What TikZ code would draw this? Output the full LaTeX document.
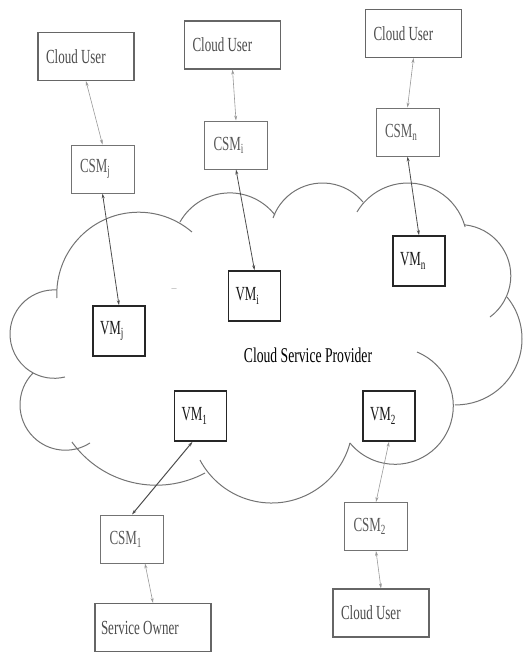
\documentclass[tikz,border=0pt]{standalone}
\usepackage{fontspec}
\setmainfont{Liberation Serif}
\newfontfamily\narrowfont[FakeStretch=0.65]{Liberation Serif}
\usetikzlibrary{arrows.meta}
\tikzset{
  box/.style={draw, minimum height=48pt, align=flush left,
    font=\narrowfont\fontsize{20}{22}\selectfont},
  userbox/.style={box, draw=black!60, line width=1.2pt, text=black!70,
    inner xsep=8pt, text width=80pt},
  csmbox/.style={box, draw=black!55, line width=1pt, text=black!65,
    inner xsep=9pt, text width=45pt},
  vmbox/.style={box, draw=black!85, line width=1.6pt, text=black!90,
    inner xsep=7pt, text width=38pt, minimum height=50pt},
  cloudline/.style={draw=black!55, line width=1pt},
  link/.style={{Stealth[length=5pt,width=3pt]}-{Stealth[length=5pt,width=3pt]},
    draw=black!40, line width=.6pt},
  vmlink/.style={link, draw=black!70, line width=.8pt}
}
\begin{document}
\begin{tikzpicture}[x=1pt,y=-1pt]
  \useasboundingbox (0,0) rectangle (523,653);
  % cloud outline, one arc per bump
  \foreach \cx/\cy/\r/\a/\b in {138.6/294/81.8/177.2/310.7, 229.8/250.1/57.2/209.4/322.2,
      322.5/235.5/52.5/199.5/320.4, 407.9/242.2/59.2/210.7/345.1,
      459.6/275.8/51.2/276.1/413.6, 456/338.9/66/320.6/450.9,
      395/406/58.3/292.2/500.6, 271.6/421.8/81.2/15.1/151.9,
      156.2/381.4/103.8/61.9/144.3, 65.4/404.8/45.4/224.5/57.2,
      54.2/334.1/44.2/273.6/75.9}
    \draw[cloudline] (\cx,\cy) ++(\a:\r) arc[start angle=\a, end angle=\b, radius=\r];
  \node[font=\narrowfont\fontsize{21}{23}\selectfont] (csp) at (308,355) {Cloud Service Provider};
  \node[text=black!40, font=\fontsize{10}{12}\selectfont] (gap) at (174,290) {--};
  % top row
  \node[userbox] (cu1) at (86,56.5) {Cloud User};
  \node[userbox] (cu2) at (232.5,45) {Cloud User};
  \node[userbox] (cu3) at (413.5,33.5) {Cloud User};
  \node[csmbox] (csmj) at (102.5,169) {CSM\textsubscript{j}};
  \node[csmbox] (csmi) at (236,145) {CSM\textsubscript{i}};
  \node[csmbox] (csmn) at (407.5,132) {CSM\textsubscript{n}};
  \node[vmbox] (vmj) at (119,331) {VM\textsubscript{j}};
  \node[vmbox] (vmi) at (254.5,296) {VM\textsubscript{i}};
  \node[vmbox] (vmn) at (419,261) {VM\textsubscript{n}};
  % bottom row
  \node[vmbox] (vm1) at (200.5,416) {VM\textsubscript{1}};
  \node[vmbox] (vm2) at (389,416) {VM\textsubscript{2}};
  \node[csmbox] (csm1) at (132,539) {CSM\textsubscript{1}};
  \node[csmbox] (csm2) at (376,526.5) {CSM\textsubscript{2}};
  \node[userbox, inner xsep=6pt, text width=104pt] (owner) at (153,627.5) {Service Owner};
  \node[userbox] (cu4) at (381,613) {Cloud User};
  % links
  \draw[link] (cu1.south) -- (csmj.north);
  \draw[vmlink] (csmj.south) -- (vmj.north);
  \draw[link] (cu2.south) -- (csmi.north);
  \draw[vmlink] (csmi.south) -- (vmi.north);
  \draw[link] (cu3.south) -- (csmn.north);
  \draw[vmlink] (csmn.south) -- (vmn.north);
  \draw[vmlink, line width=1pt] (csm1.north) -- ([xshift=-8pt]vm1.south);
  \draw[link] ([xshift=13pt]csm1.south) -- (owner.north);
  \draw[link] (vm2.south) -- (csm2.north);
  \draw[link] (csm2.south) -- (cu4.north);
\end{tikzpicture}
\end{document}
